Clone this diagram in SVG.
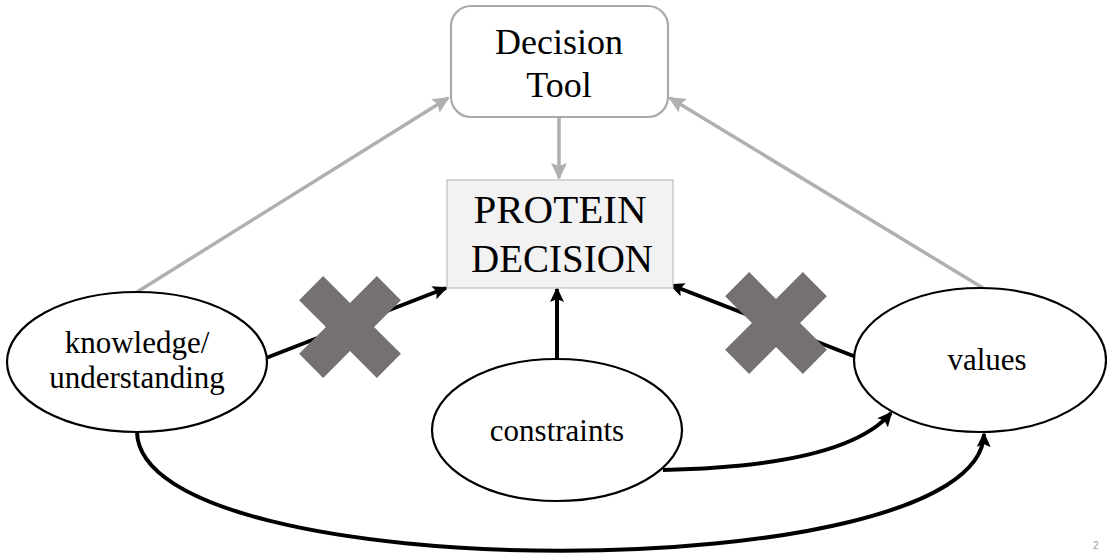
<svg xmlns="http://www.w3.org/2000/svg" width="1107" height="556" viewBox="0 0 1107 556">
<defs>
<marker id="ab" markerUnits="userSpaceOnUse" markerWidth="16" markerHeight="14" refX="13" refY="7" orient="auto"><path d="M0,0 L15,7 L0,14 L3,7 Z" fill="#000"/></marker>
<marker id="ag" markerUnits="userSpaceOnUse" markerWidth="18" markerHeight="16" refX="15" refY="8" orient="auto"><path d="M0,0 L17,8 L0,16 L3,8 Z" fill="#b0b0b0"/></marker>
<polygon id="xshape" fill="#767171" points="-17,-55 17,-55 17,-17 55,-17 55,17 17,17 17,55 -17,55 -17,17 -55,17 -55,-17 -17,-17" transform="rotate(45)"/>
</defs>
<rect width="1107" height="556" fill="#fff"/>
<g id="connectors" fill="none">
<g stroke="#b0b0b0" stroke-width="3.5">
<line x1="137" y1="292" x2="448" y2="98" marker-end="url(#ag)"/>
<line x1="983" y1="288" x2="670" y2="98" marker-end="url(#ag)"/>
<line x1="559" y1="117" x2="559" y2="178" marker-end="url(#ag)"/>
</g>
<g stroke="#000" stroke-width="4">
<line x1="266" y1="358" x2="446" y2="288" marker-end="url(#ab)"/>
<line x1="856" y1="357" x2="671" y2="285" marker-end="url(#ab)"/>
<line x1="557" y1="358" x2="557" y2="289" marker-end="url(#ab)"/>
<path d="M663,470 C760,468 855,455 891,413" marker-end="url(#ab)"/>
<path d="M137,432 C140,590 980,590 984,434" marker-end="url(#ab)"/>
</g>
</g>
<g id="decision-tool">
<rect x="451" y="6" width="217" height="111" rx="20" fill="#fff" stroke="#aaaaaa" stroke-width="2.2"/>
<text x="559" y="54" font-size="36" font-family="Times New Roman" text-anchor="middle">Decision</text>
<text x="559" y="97" font-size="36" font-family="Times New Roman" text-anchor="middle">Tool</text>
</g>
<g id="protein-decision">
<rect x="447" y="180" width="226" height="108" fill="#f2f2f2" stroke="#bdbdbd" stroke-width="1.2"/>
<text x="560" y="223" font-size="41" font-family="Times New Roman" text-anchor="middle">PROTEIN</text>
<text x="562" y="272" font-size="39" font-family="Times New Roman" text-anchor="middle">DECISION</text>
</g>
<g id="knowledge">
<ellipse cx="137" cy="362" rx="130" ry="70" fill="#fff" stroke="#000" stroke-width="2.2"/>
<text x="137" y="353" font-size="31" font-family="Times New Roman" text-anchor="middle">knowledge/</text>
<text x="137" y="388" font-size="31" font-family="Times New Roman" text-anchor="middle">understanding</text>
</g>
<g id="constraints">
<ellipse cx="557" cy="430" rx="125" ry="71" fill="#fff" stroke="#000" stroke-width="2.2"/>
<text x="557" y="441" font-size="31" font-family="Times New Roman" text-anchor="middle">constraints</text>
</g>
<g id="values">
<ellipse cx="980" cy="360" rx="126" ry="72" fill="#fff" stroke="#000" stroke-width="2.2"/>
<text x="987" y="370" font-size="31" font-family="Times New Roman" text-anchor="middle">values</text>
</g>
<g id="cross-left"><use href="#xshape" transform="translate(350,327)"/></g>
<g id="cross-right"><use href="#xshape" transform="translate(776,323)"/></g>
<text x="1093" y="549" font-size="10" font-family="Liberation Sans" fill="#999">2</text>
</svg>
